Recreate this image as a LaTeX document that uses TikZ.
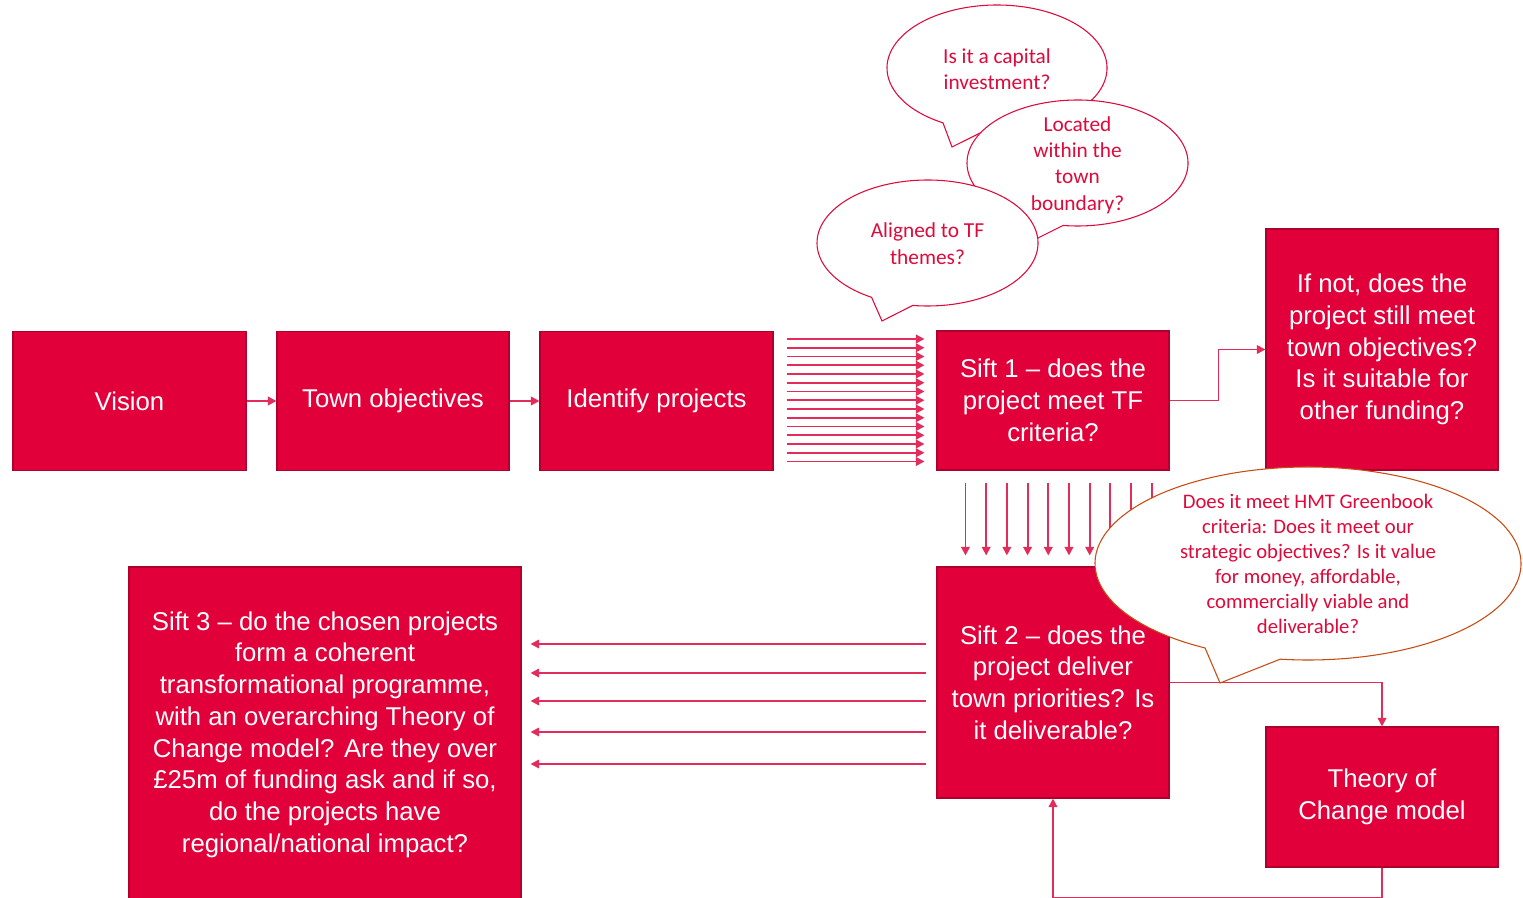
\documentclass[tikz,border=0pt]{standalone}
\usepackage{fontspec}
\setmainfont{Liberation Sans}
\newfontfamily\calib{Carlito}
\usetikzlibrary{arrows.meta,calc}
\newdimen\pxu \pxu=0.75pt
\definecolor{boxred}{RGB}{226,0,58}
\definecolor{boxedge}{RGB}{175,0,45}
\definecolor{arrred}{RGB}{226,45,90}
\definecolor{callred}{RGB}{222,10,60}
\definecolor{callorange}{RGB}{200,75,20}
\tikzset{
 box/.style={draw=boxedge, line width=0.8pt, fill=boxred, text=white, align=center, inner sep=0pt, font=\fontsize{19.3}{23.8}\selectfont},
 arr/.style={draw=arrred, line width=1.4pt, -{Triangle[length=6.5pt,width=6.5pt]}},
 calltext/.style={text=callred, align=center, font=\calib\fontsize{16}{19.8}\selectfont},
 bigtext/.style={text=callred, align=center, font=\calib\fontsize{15.5}{18.8}\selectfont},
 callout/.style={fill=white, draw=callred, line width=0.8pt},
 bigcallout/.style={fill=white, draw=callorange, line width=0.8pt},
}
\begin{document}
\begin{tikzpicture}[x=0.75pt,y=-0.75pt]
\useasboundingbox (0,0) rectangle (1523,898);
\clip (0,0) rectangle (1523,898);
% boxes
\node[box, minimum width=233\pxu, minimum height=139\pxu] (vision) at (129.5,401) {Vision};
\node[box, minimum width=232\pxu, minimum height=139\pxu] (town) at (393,401) {Town objectives};
\node[box, minimum width=233\pxu, minimum height=139\pxu] (idp) at (656.5,401) {Identify projects};
\node[box, minimum width=232\pxu, minimum height=139\pxu] (sift1) at (1053,400.5) {Sift 1 – does the\\project meet TF\\criteria?};
\node[box, minimum width=232\pxu, minimum height=241\pxu] (ifnot) at (1382,349.5) {If not, does the\\project still meet\\town objectives?\\Is it suitable for\\other funding?};
\node[box, minimum width=232\pxu, minimum height=231\pxu] (sift2) at (1053,682.5) {Sift 2 – does the\\project deliver\\town priorities? Is\\it deliverable?};
\node[box, minimum width=232\pxu, minimum height=140\pxu] (toc) at (1382,797) {Theory of\\Change model};
\node[box, minimum width=392\pxu, minimum height=335\pxu] (sift3) at (325,734.5) {Sift 3 – do the chosen projects\\form a coherent\\transformational programme,\\with an overarching Theory of\\Change model? Are they over\\£25m of funding ask and if so,\\do the projects have\\regional/national impact?};
% connectors
\draw[arr] (vision.east) -- (town.west);
\draw[arr] (town.east) -- (idp.west);
\foreach \k in {0,...,14}{
  \draw[arr] ($(idp.east)+(13,{-62+8.75*\k})$) -- ($(sift1.west)+(-12,{-61.5+8.75*\k})$);
}
\foreach \k in {0,...,9}{
  \draw[arr] ($(sift1.south west)+({29+20.7*\k},12)$) -- ($(sift2.north west)+({29+20.7*\k},-11)$);
}
\foreach \dy in {644,673,701,732,764}{
  \draw[arr] ($(sift2.west |- 0,\dy)+(-10,0)$) -- ($(sift3.east |- 0,\dy)+(9,0)$);
}
\draw[arr] (sift1.east) -- ++(49,0) |- (ifnot.west);
\draw[arr] (sift2.east) -| (toc.north);
\draw[arr] (toc.south) -- ++(0,30) -| (sift2.south);
% callouts
\coordinate (c1) at (997,68);
\coordinate (c2) at (1077.5,163);
\coordinate (c3) at (927.5,243);
\coordinate (c4) at (1308,563.5);
\coordinate (t1) at (952,147);
\coordinate (t2) at (1028,243);
\coordinate (t3) at (882,321);
\coordinate (t4) at (1220,683);
\path[callout] ($(c1)+(119.4:110 and 63)$) arc[start angle=119.4, end angle=456.3, x radius=110, y radius=63] -- (t1) -- cycle;
\node[calltext] (q1) at (997,69) {Is it a capital\\investment?};
\path[callout] ($(c2)+(118:110.5 and 63)$) arc[start angle=118, end angle=457.5, x radius=110.5, y radius=63] -- (t2) -- cycle;
\node[calltext] (q2) at (1077.5,165) {Located\\within the\\town\\boundary?};
\path[callout] ($(c3)+(120.4:110.5 and 63)$) arc[start angle=120.4, end angle=457.7, x radius=110.5, y radius=63] -- (t3) -- cycle;
\node[calltext] (q3) at (927.5,243.5) {Aligned to TF\\themes?};
\path[bigcallout] ($(c4)+(118.9:213 and 96.5)$) arc[start angle=118.9, end angle=457.5, x radius=213, y radius=96.5] -- (t4) -- cycle;
\node[bigtext] (q4) at (1308,564) {Does it meet HMT Greenbook\\criteria: Does it meet our\\strategic objectives? Is it value\\for money, affordable,\\commercially viable and\\deliverable?};
\end{tikzpicture}
\end{document}
